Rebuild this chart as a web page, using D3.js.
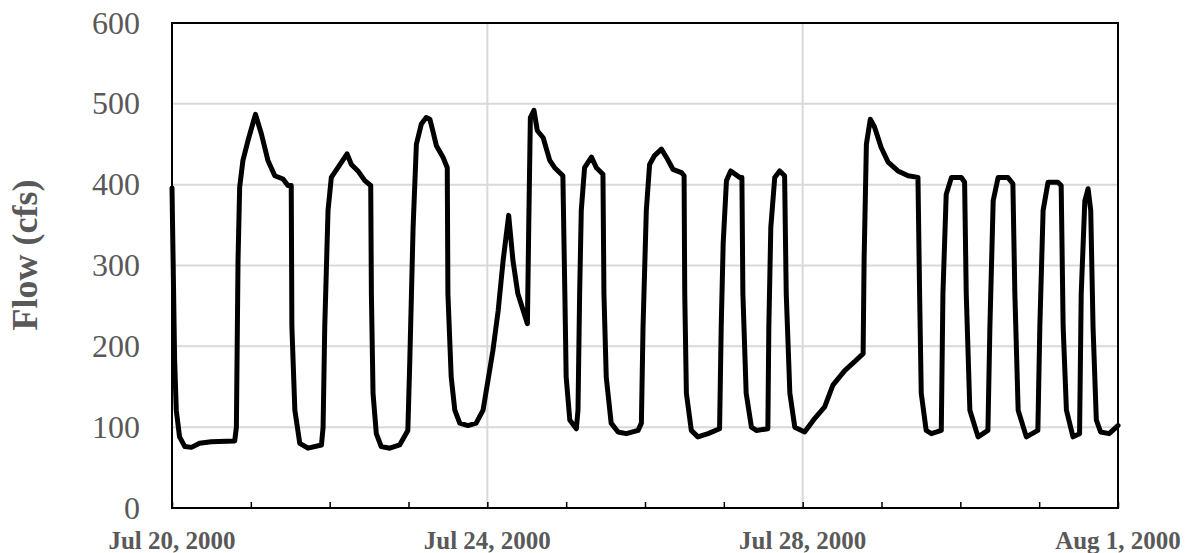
<!DOCTYPE html>
<html>
<head>
<meta charset="utf-8">
<style>
  body { margin: 0; background: #fff; }
  svg text { font-family: "Liberation Serif", "Times New Roman", serif; fill: #595959; }
</style>
</head>
<body>
<div id="chart"></div>
<script src="https://d3js.org/d3.v7.min.js"></script>
<script>
// hours since Jul 20, 2000 00:00
var hours = [0, 0.8, 1.3, 2.3, 3.9, 5.9, 8.4, 11.9, 19.1, 19.6, 20.1, 20.6, 21.6, 23.1, 25.4, 27.2, 29.2, 31.3, 33.8, 35.3,
  36.3, 36.5, 37.4, 38.9, 41.4, 45.5, 46.0, 46.5, 47.5, 48.5, 50.5, 53.3, 54.6, 56.6, 58.7, 60.5, 60.7, 61.2, 62.2, 63.7,
  66.3, 69.3, 71.8, 72.4, 73.4, 74.4, 75.9, 77.4, 78.5, 79.5, 80.5, 82.5, 83.8, 84.0, 85.0, 86.1, 87.6, 90.1, 92.6, 94.7,
  96.2, 97.7, 99.3, 100.8, 102.5, 103.8, 105.3, 108.2, 108.6, 109.1, 110.2, 111.2, 113.0, 115.0, 116.5, 119.0, 119.6, 120.0, 121.1, 123.1,
  123.6, 124.1, 124.6, 125.6, 127.7, 129.2, 131.2, 131.5, 132.2, 133.7, 135.8, 138.3, 141.9, 142.9, 143.4, 144.4, 145.4, 146.9, 149.0, 150.5,
  152.5, 155.1, 155.9, 156.1, 156.6, 158.1, 160.1, 163.2, 166.7, 167.2, 167.8, 168.8, 170.1, 172.8, 173.5, 173.8, 174.8, 176.4, 177.9, 181.4,
  181.7, 182.3, 183.5, 185.0, 186.5, 187.0, 188.1, 189.6, 192.6, 195.7, 198.7, 201.2, 204.8, 207.8, 210.4, 210.7, 211.4, 212.6, 213.9, 215.9,
  218.0, 221.0, 224.1, 227.1, 227.6, 228.1, 229.6, 231.2, 234.2, 234.7, 235.7, 237.3, 240.3, 241.3, 241.8, 242.9, 245.4, 248.4, 249.0, 250.0,
  251.5, 254.5, 256.0, 256.6, 257.6, 260.1, 263.6, 264.2, 265.2, 266.7, 269.7, 270.7, 271.3, 272.3, 274.3, 276.3, 276.8, 277.9, 278.9, 279.7,
  280.4, 281.4, 282.7, 285.3, 288];
var flow = [396, 183, 121, 88, 76, 75, 80, 82, 83, 100, 306, 397, 430, 454, 487, 463, 430, 411, 407, 399,
  399, 224, 121, 80, 74, 78, 100, 224, 368, 409, 421, 438, 425, 417, 405, 399, 265, 142, 92, 76,
  74, 78, 96, 183, 347, 450, 475, 483, 481, 465, 448, 434, 421, 265, 162, 121, 105, 102, 105, 121,
  158, 195, 244, 306, 362, 306, 265, 228, 347, 483, 492, 467, 458, 430, 421, 411, 265, 162, 109, 98,
  121, 265, 368, 421, 434, 421, 413, 265, 162, 105, 94, 92, 96, 105, 224, 368, 425, 436, 444, 434,
  419, 415, 411, 265, 142, 96, 88, 92, 98, 224, 327, 405, 417, 409, 409, 265, 142, 100, 96, 98,
  224, 347, 409, 417, 411, 265, 142, 100, 94, 111, 125, 152, 170, 181, 191, 306, 450, 481, 471, 446,
  428, 417, 411, 409, 265, 142, 96, 92, 96, 265, 388, 409, 409, 403, 265, 121, 88, 96, 224, 380,
  409, 409, 401, 265, 121, 88, 96, 224, 368, 403, 403, 399, 224, 121, 88, 92, 265, 380, 395, 368,
  224, 109, 94, 92, 102];

var yTicks = [0, 100, 200, 300, 400, 500, 600];
var xLabelDays = [0, 4, 8, 12]; // Jul 20, Jul 24, Jul 28, Aug 1
var start = new Date(2000, 6, 20);
var fmt = d3.timeFormat("%b %-d, %Y");

var W = 1192, H = 553;
var plotL = 172, plotR = 1118, plotT = 23, plotB = 508;

var x = d3.scaleTime()
  .domain([start, d3.timeDay.offset(start, 12)])
  .range([plotL, plotR]);
var y = d3.scaleLinear().domain([0, 600]).range([plotB, plotT]);

var data = hours.map(function(h, i) {
  return { t: new Date(start.getTime() + h * 3600000), v: flow[i] };
});

var svg = d3.select("#chart").append("svg")
  .attr("width", W).attr("height", H);

// horizontal gridlines
svg.append("g").selectAll("line")
  .data(yTicks.slice(1))
  .enter().append("line")
  .attr("x1", plotL).attr("x2", plotR)
  .attr("y1", function(d) { return y(d); })
  .attr("y2", function(d) { return y(d); })
  .style("stroke", "#d9d9d9").style("stroke-width", 2);

// vertical gridlines every 4 days
svg.append("g").selectAll("line")
  .data(xLabelDays.slice(1, -1))
  .enter().append("line")
  .attr("x1", function(d) { return x(d3.timeDay.offset(start, d)); })
  .attr("x2", function(d) { return x(d3.timeDay.offset(start, d)); })
  .attr("y1", plotT).attr("y2", plotB)
  .style("stroke", "#d9d9d9").style("stroke-width", 2);

// daily tick marks (pointing up into the plot)
var xAxis = d3.axisTop(x)
  .ticks(d3.timeDay.every(1))
  .tickSize(6)
  .tickFormat("");
var gx = svg.append("g").attr("transform", "translate(0," + plotB + ")").call(xAxis);
gx.select(".domain").remove();
gx.selectAll("line").style("stroke", "#000").style("stroke-width", 1.5);

// y tick labels
svg.append("g").selectAll("text")
  .data(yTicks)
  .enter().append("text")
  .attr("x", 140)
  .attr("y", function(d) { return y(d) + 10.5; })
  .attr("text-anchor", "end")
  .style("font-size", "32px")
  .text(function(d) { return d; });

// x labels
svg.append("g").selectAll("text")
  .data(xLabelDays)
  .enter().append("text")
  .attr("x", function(d) { return x(d3.timeDay.offset(start, d)); })
  .attr("y", 549)
  .attr("text-anchor", "middle")
  .style("font-size", "25px")
  .style("font-weight", "bold")
  .text(function(d) { return fmt(d3.timeDay.offset(start, d)); });

// y title
svg.append("text")
  .attr("transform", "translate(37,255) rotate(-90)")
  .attr("text-anchor", "middle")
  .style("font-size", "36px")
  .style("font-weight", "bold")
  .text("Flow (cfs)");

// flow line
var line = d3.line()
  .x(function(d) { return x(d.t); })
  .y(function(d) { return y(d.v); });

svg.append("path")
  .datum(data)
  .attr("d", line)
  .style("fill", "none")
  .style("stroke", "#000")
  .style("stroke-width", 5)
  .style("stroke-linejoin", "round")
  .style("stroke-linecap", "round");

// plot frame
svg.append("rect")
  .attr("x", plotL).attr("y", plotT)
  .attr("width", plotR - plotL).attr("height", plotB - plotT)
  .style("fill", "none").style("stroke", "#000").style("stroke-width", 2);
</script>
</body>
</html>
